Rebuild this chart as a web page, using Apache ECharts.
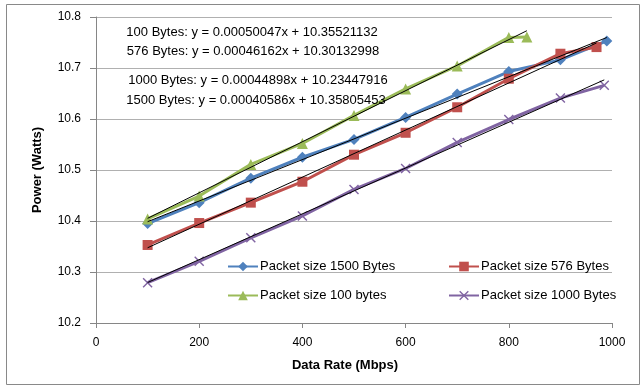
<!DOCTYPE html>
<html>
<head>
<meta charset="utf-8">
<script src="https://cdn.jsdelivr.net/npm/echarts@6/dist/echarts.min.js"></script>
<style>
  html, body { margin: 0; padding: 0; background: #fff; }
  #chart { width: 641px; height: 387px; }
</style>
</head>
<body>
<div id="chart"></div>
<script>
// Measured power draw vs. data rate for four packet sizes
const rate1500 = [100, 200, 300, 400, 500, 600, 700, 800, 900, 990];
const power1500 = [10.395, 10.436, 10.484, 10.525, 10.560, 10.603, 10.649, 10.693, 10.716, 10.753];

const rate576 = [100, 200, 300, 400, 500, 600, 700, 800, 900, 970];
const power576 = [10.353, 10.396, 10.436, 10.477, 10.530, 10.573, 10.623, 10.679, 10.728, 10.741];

const rate100 = [100, 200, 300, 400, 500, 600, 700, 800, 835];
const power100 = [10.404, 10.449, 10.511, 10.552, 10.607, 10.659, 10.704, 10.760, 10.761];

const rate1000 = [100, 200, 300, 400, 500, 600, 700, 800, 900, 985];
const power1000 = [10.279, 10.321, 10.367, 10.410, 10.462, 10.503, 10.554, 10.599, 10.641, 10.666];

// Linear fits (slope, intercept) shown as trendline equations
const fitNames = ['100 Bytes', '576 Bytes', '1000 Bytes', '1500 Bytes'];
const fitSlopes = [0.00050047, 0.00046162, 0.00044898, 0.00040586];
const fitIntercepts = [10.35521132, 10.30132998, 10.23447916, 10.35805453];
const fitSlopeText = ['0.00050047', '0.00046162', '0.00044898', '0.00040586'];
const fitInterceptText = ['10.35521132', '10.30132998', '10.23447916', '10.35805453'];

const seriesNames = ['Packet size 1500 Bytes', 'Packet size 576 Bytes', 'Packet size 100 bytes', 'Packet size 1000 Bytes'];
const xTicks = [0, 200, 400, 600, 800, 1000];

const FONT = 'Liberation Sans';
const colors = ['#4F81BD', '#C0504D', '#9BBB59', '#8064A2'];
const crossPath = 'path://M0,1 L1,0 L5,4 L9,0 L10,1 L6,5 L10,9 L9,10 L5,6 L1,10 L0,9 L4,5 Z';

function pairs(xs, ys) { return xs.map((x, i) => [x, ys[i]]); }

// Trend segments span each series' own x range
function trend(idx, xs) {
  const a = xs[0], b = xs[xs.length - 1];
  return [[a, fitIntercepts[idx] + fitSlopes[idx] * a], [b, fitIntercepts[idx] + fitSlopes[idx] * b]];
}

const dataSeries = [
  { name: seriesNames[0], data: pairs(rate1500, power1500), symbol: 'diamond', symbolSize: 11, color: colors[0] },
  { name: seriesNames[1], data: pairs(rate576, power576), symbol: 'rect', symbolSize: 10, color: colors[1] },
  { name: seriesNames[2], data: pairs(rate100, power100), symbol: 'triangle', symbolSize: 11, color: colors[2] },
  { name: seriesNames[3], data: pairs(rate1000, power1000), symbol: crossPath, symbolSize: 10, color: colors[3] }
].map(s => ({
  name: s.name,
  type: 'line',
  data: s.data,
  symbol: s.symbol,
  symbolSize: s.symbolSize,
  showAllSymbol: true,
  itemStyle: { color: s.color },
  lineStyle: { color: s.color, width: 3 },
  emphasis: { disabled: true },
  z: 2
}));

const trendSeries = [
  trend(3, rate1500), trend(1, rate576), trend(0, rate100), trend(2, rate1000)
].map((d, i) => ({
  name: 'trend' + i,
  type: 'line',
  data: d,
  symbol: 'none',
  lineStyle: { color: '#000', width: 1 },
  emphasis: { disabled: true },
  z: 3
}));

const eqX = [252, 253, 258, 256];
const eqY = [32, 51, 80, 100];
const eqText = fitNames.map((n, i) => n + ': y = ' + fitSlopeText[i] + 'x + ' + fitInterceptText[i]);

const legendText = { fontFamily: FONT, fontSize: 13, color: '#000', padding: [0, 0, 0, -3] };

const chart = echarts.init(document.getElementById('chart'));
chart.setOption({
  animation: false,
  backgroundColor: '#fff',
  textStyle: { fontFamily: FONT },
  grid: { left: 96, right: 29, top: 17, bottom: 64 },
  xAxis: {
    type: 'value',
    min: 0, max: 1000, interval: 200,
    name: 'Data Rate (Mbps)',
    nameLocation: 'middle',
    nameGap: 36,
    nameTextStyle: { fontFamily: FONT, fontSize: 13, fontWeight: 'bold', color: '#000', padding: [0, 18, 0, 0] },
    axisLine: { show: true, lineStyle: { color: '#868686' } },
    axisTick: { show: true, length: 5, lineStyle: { color: '#868686' } },
    axisLabel: { fontFamily: FONT, fontSize: 12, color: '#000', margin: 14,
      formatter: v => xTicks.includes(v) ? String(v) : '' },
    splitLine: { show: false }
  },
  yAxis: {
    type: 'value',
    min: 10.2, max: 10.8, interval: 0.1,
    name: 'Power (Watts)',
    nameLocation: 'middle',
    nameGap: 52,
    nameTextStyle: { fontFamily: FONT, fontSize: 13, fontWeight: 'bold', color: '#000' },
    axisLine: { show: true, lineStyle: { color: '#868686' } },
    axisTick: { show: true, length: 6, lineStyle: { color: '#868686' } },
    axisLabel: { fontFamily: FONT, fontSize: 12, color: '#000', margin: 15, formatter: v => v.toFixed(1) },
    splitLine: { show: true, lineStyle: { color: '#b0b0b0', width: 1 } }
  },
  legend: [
    {
      orient: 'vertical', left: 227, top: 260, padding: 0, itemGap: 16, itemWidth: 30, itemHeight: 12,
      data: [seriesNames[0], seriesNames[2]],
      textStyle: legendText,
      selectedMode: false
    },
    {
      orient: 'vertical', left: 448, top: 260, padding: 0, itemGap: 16, itemWidth: 30, itemHeight: 12,
      data: [seriesNames[1], seriesNames[3]],
      textStyle: legendText,
      selectedMode: false
    }
  ],
  graphic: [
    { type: 'rect', left: 4, top: 2, shape: { width: 633, height: 380 }, style: { fill: 'none', stroke: '#898989', lineWidth: 1 }, z: -1 }
  ].concat(eqText.map((t, i) => ({
    type: 'text', x: eqX[i], y: eqY[i],
    style: { text: t, font: '13px "' + FONT + '"', fill: '#000', textAlign: 'center', textVerticalAlign: 'middle' },
    z: 10
  }))),
  series: dataSeries.concat(trendSeries)
});
</script>
</body>
</html>
